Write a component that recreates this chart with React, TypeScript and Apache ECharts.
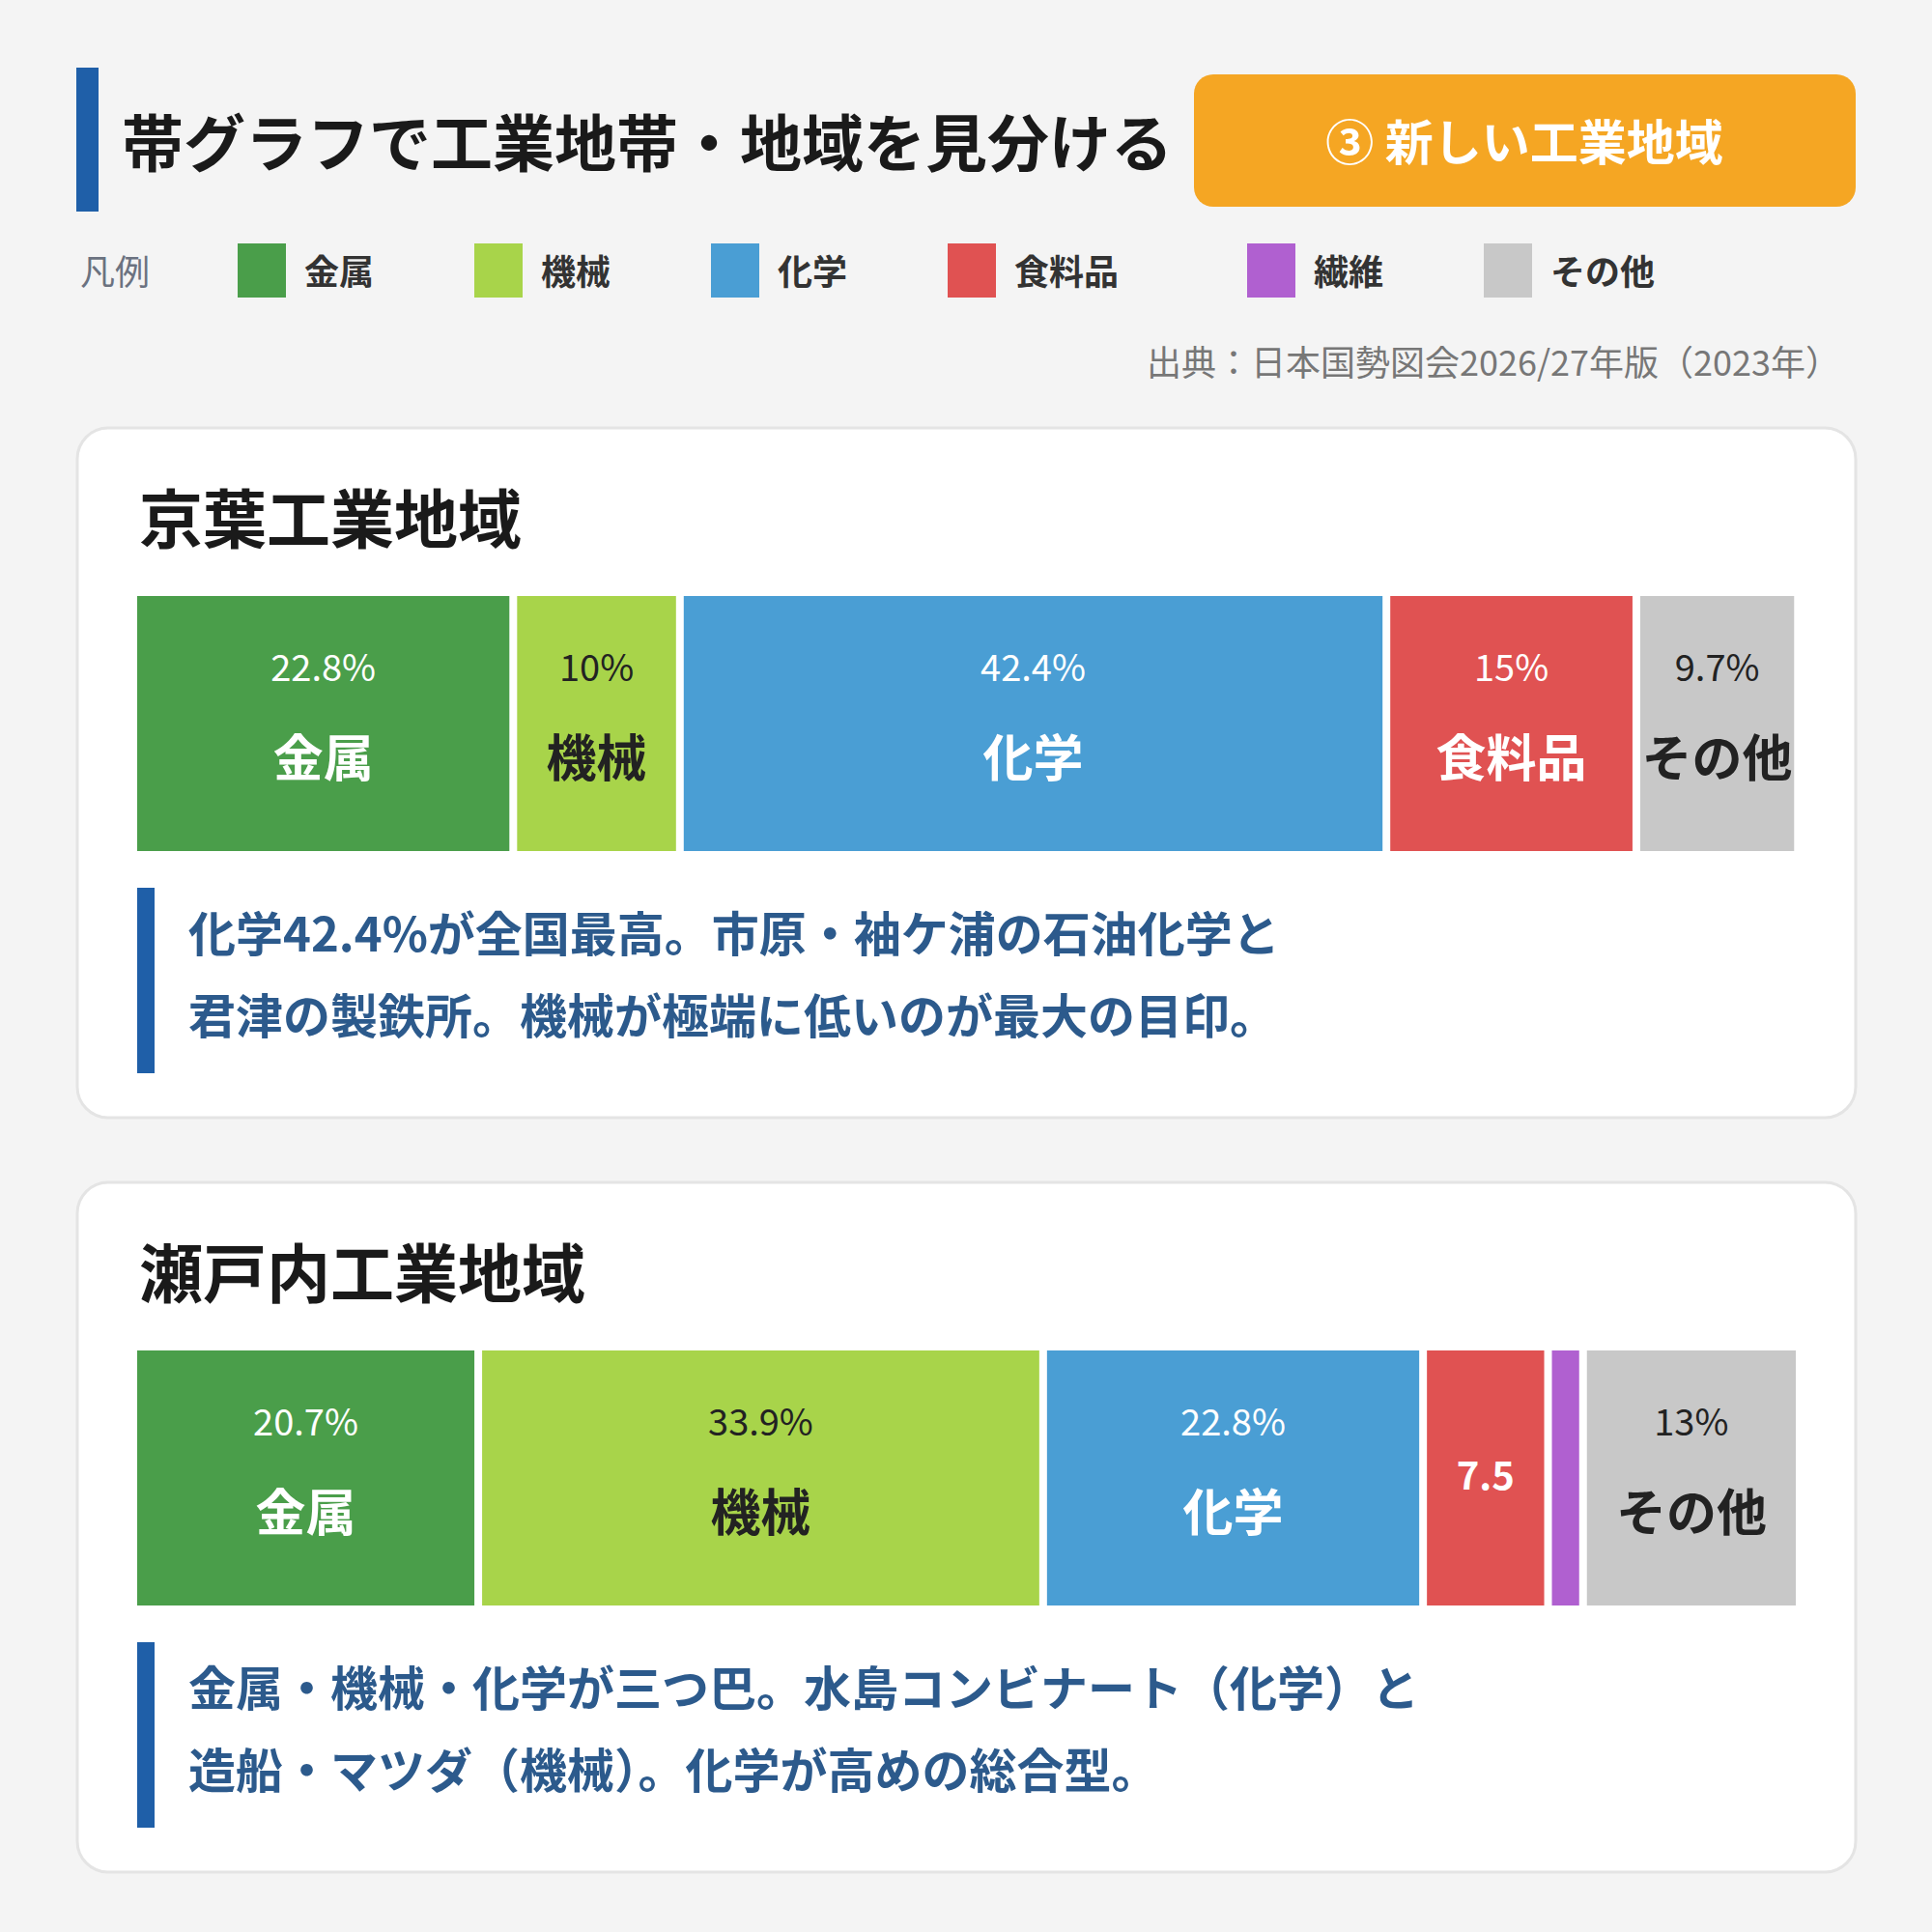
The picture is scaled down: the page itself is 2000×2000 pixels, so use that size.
import React, { useEffect, useRef } from 'react';
import * as echarts from 'echarts';

// ---- data ----
const categories = ['金属', '機械', '化学', '食料品', '繊維', 'その他'];
const colors = ['#4a9e4a', '#a8d44a', '#4a9ed4', '#e05252', '#b060d0', '#c8c8c8'];
const labelColors = ['#ffffff', '#222222', '#ffffff', '#ffffff', '#ffffff', '#222222'];
const regions = ['京葉工業地域', '瀬戸内工業地域'];
const keiyoValues = [22.8, 10, 42.4, 15, 0, 9.7];
const setouchiValues = [20.7, 33.9, 22.8, 7.5, 2.1, 13];
const regionValues = [keiyoValues, setouchiValues];
const notes = [
  ['化学42.4%が全国最高。市原・袖ケ浦の石油化学と', '君津の製鉄所。機械が極端に低いのが最大の目印。'],
  ['金属・機械・化学が三つ巴。水島コンビナート（化学）と', '造船・マツダ（機械）。化学が高めの総合型。'],
];
const mainTitle = '帯グラフで工業地帯・地域を見分ける';
const badgeText = '③ 新しい工業地域';
const legendTitle = '凡例';
const sourceText = '出典：日本国勢図会2026/27年版（2023年）';

// ---- layout ----
const FONT = '"Noto Sans CJK JP", "Noto Sans", sans-serif';
const legendX = [246, 491, 736, 981, 1291, 1536];
const cardTops = [443, 1224];
const CARD_H = 714;
const BAR_OFFSET = 170; // bar top relative to card top (incl. half border)
const BAR_H = 272;

export default function App() {
  const ref = useRef<HTMLDivElement>(null);

  useEffect(() => {
    if (!ref.current) return;
    const chart = echarts.init(ref.current, undefined, { renderer: 'svg' });

    const graphic: any[] = [];
    // header
    graphic.push({ type: 'rect', shape: { x: 79, y: 70, width: 23, height: 149 }, style: { fill: '#1f5fa8' } });
    graphic.push({
      type: 'text', x: 126, y: 144,
      style: { text: mainTitle, fontSize: 64, fontWeight: 'bold', fontFamily: FONT, fill: '#1a1a1a', textAlign: 'left', textVerticalAlign: 'middle' },
    });
    graphic.push({ type: 'rect', shape: { x: 1236, y: 77, width: 685, height: 137, r: 20 }, style: { fill: '#f5a623' } });
    graphic.push({
      type: 'text', x: 1578, y: 144,
      style: { text: badgeText, fontSize: 50, fontWeight: 'bold', fontFamily: FONT, fill: '#ffffff', textAlign: 'center', textVerticalAlign: 'middle' },
    });
    // legend
    graphic.push({
      type: 'text', x: 83, y: 279,
      style: { text: legendTitle, fontSize: 36, fontFamily: FONT, fill: '#6b7280', textAlign: 'left', textVerticalAlign: 'middle' },
    });
    categories.forEach((c, i) => {
      graphic.push({ type: 'rect', shape: { x: legendX[i], y: 252, width: 50, height: 56 }, style: { fill: colors[i] } });
      graphic.push({
        type: 'text', x: legendX[i] + 69, y: 279,
        style: { text: c, fontSize: 36, fontWeight: 'bold', fontFamily: FONT, fill: '#333333', textAlign: 'left', textVerticalAlign: 'middle' },
      });
    });
    graphic.push({
      type: 'text', x: 1905, y: 373,
      style: { text: sourceText, fontSize: 36, fontFamily: FONT, fill: '#777777', textAlign: 'right', textVerticalAlign: 'middle' },
    });
    // cards
    regions.forEach((r, g) => {
      const top = cardTops[g];
      graphic.push({
        type: 'rect', z: -10,
        shape: { x: 80, y: top, width: 1841, height: CARD_H, r: 32 },
        style: { fill: '#ffffff', stroke: '#e4e4e4', lineWidth: 3 },
      });
      graphic.push({
        type: 'text', x: 144, y: top + 90,
        style: { text: r, fontSize: 66, fontWeight: 'bold', fontFamily: FONT, fill: '#1a1a1a', textAlign: 'left', textVerticalAlign: 'middle' },
      });
      graphic.push({ type: 'rect', shape: { x: 142, y: top + 476, width: 18, height: 192 }, style: { fill: '#1f5fa8' } });
      notes[g].forEach((line, k) => {
        graphic.push({
          type: 'text', x: 195, y: top + 520 + k * 85,
          style: { text: line, fontSize: 49, fontWeight: 'bold', fontFamily: FONT, fill: '#2c5a8c', textAlign: 'left', textVerticalAlign: 'middle' },
        });
      });
    });

    const grids = cardTops.map((t) => ({ left: 138, width: 1725, top: t + BAR_OFFSET, height: BAR_H }));
    const xAxes = grids.map((_, g) => ({ type: 'value', gridIndex: g, min: 0, max: 100, show: false }));
    const yAxes = grids.map((_, g) => ({ type: 'category', gridIndex: g, data: [regions[g]], show: false }));

    const series: any[] = [];
    regionValues.forEach((vals, g) => {
      categories.forEach((c, i) => {
        const lc = labelColors[i];
        series.push({
          type: 'bar',
          name: c,
          xAxisIndex: g,
          yAxisIndex: g,
          stack: 'region' + g,
          barWidth: '100%',
          barCategoryGap: '0%',
          data: [vals[i]],
          itemStyle: { color: colors[i], borderColor: '#ffffff', borderWidth: 4 },
          label: {
            show: true,
            position: 'inside',
            fontFamily: FONT,
            formatter: (p: any) => {
              const v = p.value;
              if (v >= 9) return `{p|${v}%}\n{n|${c}}`;
              if (v >= 5) return `{s|${v}}`;
              return '';
            },
            rich: {
              p: { fontSize: 38, lineHeight: 64, color: lc, fontFamily: FONT },
              n: { fontSize: 52, lineHeight: 122, fontWeight: 'bold', color: lc, fontFamily: FONT },
              s: { fontSize: 40, fontWeight: 'bold', color: lc, fontFamily: FONT, padding: [0, 0, 10, 0] },
            },
          },
        });
      });
    });

    chart.setOption({
      animation: false,
      backgroundColor: '#f4f4f4',
      grid: grids,
      xAxis: xAxes,
      yAxis: yAxes,
      series,
      graphic,
    });

    return () => chart.dispose();
  }, []);

  return <div ref={ref} style={{ position: 'absolute', left: 0, top: 0, width: 2000, height: 2000 }} />;
}
